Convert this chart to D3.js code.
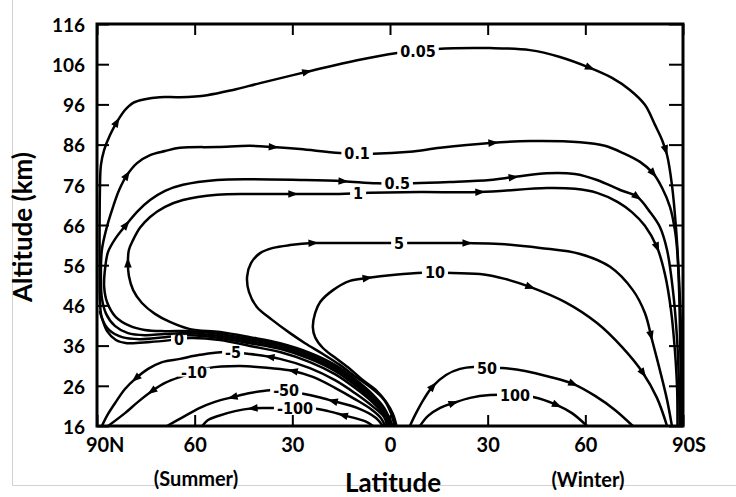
<!DOCTYPE html>
<html>
<head>
<meta charset="utf-8">
<script src="https://cdn.jsdelivr.net/npm/d3@7"></script>
<style>
  body { margin: 0; background: #fff; }
  svg { display: block; }
</style>
</head>
<body>
<svg id="chart" width="736" height="497"></svg>
<script>
// Axis ticks
const altTicks = [16, 26, 36, 46, 56, 66, 76, 86, 96, 106, 116];
const latTicks = [90, 60, 30, 0, -30, -60, -90];
const latTickLabels = ["90N", "60", "30", "0", "30", "60", "90S"];

// Mass stream function lines, [latitude (+N / -S), altitude km], ordered along the flow
const sf_005 = [[0.2,16],[1.8,19.2],[5.5,22.5],[10.8,26.2],[16.9,29.7],[24.6,32.7],[33.8,35.2],[43.0,36.6],[52.2,37.9],[61.4,38.6],[69.1,38.1],[76.8,37.6],[82.3,38.1],[86.3,39.9],[88.5,42.9],[89.1,47.3],[89.2,54.8],[89.2,64.8],[89.1,74.7],[88.8,80.9],[87.8,84.7],[86.0,88.4],[83.9,91.6],[81.4,94.6],[78.9,96.4],[75.3,97.3],[70.7,97.8],[64.5,97.8],[56.2,98.3],[48.2,99.6],[39.9,101.3],[25.5,104.1],[10.1,107.0],[-2.2,108.8],[-14.4,109.8],[-30.7,110.0],[-43.0,109.5],[-52.2,107.8],[-61.4,105.1],[-68.2,102.6],[-73.7,99.6],[-78.3,95.9],[-81.4,90.9],[-83.6,87.1],[-85.1,83.4],[-86.6,76.0],[-87.9,64.8],[-88.8,52.3],[-89.4,39.9],[-89.7,27.4],[-89.7,16]];
const sf_01 = [[-0.2,16],[1.8,19.7],[5.5,23.0],[10.8,26.7],[16.9,30.2],[24.6,33.2],[33.8,35.7],[43.0,37.1],[52.2,38.4],[61.4,39.1],[69.1,38.9],[75.3,38.6],[80.5,39.1],[84.5,40.9],[87.2,43.9],[88.5,47.8],[88.8,53.6],[88.5,59.8],[87.2,64.8],[85.4,69.7],[83.2,74.7],[80.8,78.4],[77.7,81.4],[73.7,83.4],[69.1,84.4],[64.5,85.2],[53.1,85.4],[43.0,85.7],[35.9,85.4],[27.6,84.9],[15.4,83.9],[5.2,83.7],[-6.1,84.2],[-15.4,85.2],[-30.7,86.4],[-43.0,86.9],[-58.4,86.6],[-66.0,85.7],[-71.6,83.9],[-76.8,81.7],[-80.8,78.9],[-83.6,75.2],[-86.0,70.5],[-87.5,64.8],[-88.2,59.8],[-88.8,49.8],[-89.1,37.4],[-89.4,25.0],[-89.5,16]];
const sf_05 = [[-0.5,16],[1.8,20.0],[5.5,23.5],[10.8,27.2],[16.9,30.7],[24.6,33.7],[33.8,36.2],[43.0,37.6],[52.2,38.9],[61.4,39.6],[69.1,39.6],[75.3,39.9],[79.9,40.9],[84.2,43.1],[86.9,46.8],[87.8,50.6],[87.5,55.3],[86.6,59.3],[84.2,62.8],[81.1,66.0],[77.4,69.5],[73.7,72.2],[69.1,74.5],[63.6,76.0],[53.1,77.2],[43.0,77.4],[27.6,77.2],[14.4,76.9],[4.0,76.4],[-7.1,76.4],[-18.4,76.7],[-30.7,77.2],[-37.8,77.9],[-48.2,78.9],[-56.8,78.7],[-63.6,77.2],[-70.7,74.7],[-75.9,73.0],[-79.9,69.2],[-82.9,65.5],[-85.1,59.8],[-86.9,49.8],[-88.2,37.4],[-88.8,25.0],[-89.0,16]];
const sf_1 = [[-0.8,16],[1.8,20.5],[5.5,24.0],[10.8,27.7],[16.9,31.2],[24.6,34.2],[33.8,36.6],[43.0,38.1],[52.2,39.4],[61.4,40.1],[67.6,41.9],[72.2,43.9],[76.2,46.6],[78.9,49.8],[80.2,53.3],[80.5,56.5],[80.2,59.8],[78.9,62.3],[76.8,65.3],[73.7,68.0],[69.1,70.5],[63.6,72.2],[53.1,73.5],[43.0,73.7],[29.8,73.7],[18.4,73.7],[6.1,74.0],[-9.2,74.2],[-27.6,74.2],[-48.2,75.2],[-56.8,75.0],[-63.6,74.0],[-70.0,71.7],[-74.3,69.2],[-78.3,65.8],[-82.0,60.5],[-84.5,53.6],[-86.3,44.9],[-87.5,34.9],[-88.2,25.0],[-88.3,16]];
const sf_5 = [[-1.4,16],[-0.3,19.2],[1.8,22.5],[6.1,25.7],[10.8,28.4],[15.4,31.2],[20.6,33.9],[26.1,36.6],[30.7,39.1],[36.2,42.4],[40.9,45.6],[43.3,49.3],[43.9,53.1],[42.7,56.5],[39.9,59.0],[35.9,60.3],[30.7,61.0],[23.7,61.5],[12.3,61.5],[-3.1,61.5],[-15.4,61.5],[-23.7,61.5],[-33.8,61.3],[-46.1,60.3],[-58.4,58.8],[-67.6,55.6],[-74.6,49.8],[-78.3,44.1],[-80.5,37.4],[-82.9,29.9],[-85.1,22.5],[-86.6,16]];
const sf_10 = [[-2.0,16],[-0.9,19.0],[1.2,22.0],[4.0,24.7],[8.3,27.4],[12.3,30.2],[17.2,33.2],[20.6,35.4],[23.0,38.1],[23.7,40.6],[23.0,44.1],[21.5,46.8],[17.5,49.8],[12.3,52.1],[7.1,52.8],[-1.5,53.6],[-10.1,54.1],[-16.9,54.1],[-27.6,53.8],[-35.3,52.6],[-43.0,50.6],[-53.8,46.8],[-63.6,41.6],[-71.3,35.6],[-77.7,29.2],[-82.0,23.0],[-85.1,16]];
const sf_0 = [[0.5,16],[1.8,18.7],[5.5,22.0],[10.8,25.5],[16.9,28.9],[24.6,31.9],[33.8,34.4],[43.0,35.9],[52.2,37.4],[61.4,37.9],[67.0,37.4],[73.7,36.9],[80.8,36.6],[84.2,37.4],[86.9,39.6],[88.5,42.9],[89.1,44.4]];
const sf_m5 = [[0.9,16],[1.8,18.2],[5.5,21.0],[10.8,24.2],[16.9,27.4],[24.6,30.4],[33.8,32.7],[43.0,33.9],[50.7,34.4],[58.4,33.7],[64.5,32.7],[70.0,31.9],[74.3,30.2],[78.0,27.9],[81.4,25.2],[84.2,22.0],[86.6,19.0],[88.5,16]];
const sf_m10 = [[1.5,16],[2.8,18.0],[5.5,20.0],[10.8,22.7],[16.9,25.5],[23.7,28.2],[29.8,29.7],[36.9,30.4],[46.1,30.9],[55.9,30.4],[59.9,29.4],[64.5,28.2],[69.1,26.7],[73.1,24.7],[77.4,22.0],[81.4,19.2],[86.6,16]];
const sf_m50 = [[2.2,16],[4.3,18.0],[10.1,20.5],[17.5,22.2],[22.1,23.2],[26.7,24.0],[31.9,24.7],[36.9,24.9],[43.0,24.2],[48.2,23.2],[53.8,22.0],[58.4,20.5],[63.6,18.2],[68.5,16]];
const sf_m100 = [[5.2,16],[7.7,17.2],[14.4,18.7],[19.0,19.7],[23.7,20.4],[29.2,20.5],[33.8,20.5],[38.4,20.5],[42.1,20.4],[47.6,19.7],[52.8,18.5],[55.9,17.5],[57.7,16]];
const sf_50 = [[-6.1,16],[-8.0,19.2],[-10.4,22.7],[-13.2,25.9],[-17.2,28.7],[-21.5,30.2],[-25.5,30.7],[-29.8,30.4],[-34.4,30.4],[-41.5,29.7],[-49.2,28.2],[-56.2,26.5],[-63.0,23.5],[-69.1,20.0],[-74.6,16]];
const sf_100 = [[-9.2,16],[-11.7,18.5],[-15.4,20.5],[-19.4,21.7],[-24.6,23.0],[-30.7,23.7],[-37.5,23.7],[-43.9,23.2],[-51.3,21.2],[-55.9,19.2],[-60.5,16]];

// Flow-direction arrowheads on each line [lat, alt]
const arr_005 = [[83.9,91.6],[25.5,104.1],[-61.4,105.1],[-84.6,84.7]];
const arr_01 = [[80.8,78.4],[35.9,85.4],[-31.6,86.4],[-80.8,78.9]];
const arr_05 = [[81.1,66.0],[14.4,76.9],[-37.8,77.9],[-75.9,73.0]];
const arr_1 = [[80.5,56.5],[29.8,73.7],[-27.6,74.2],[-82.0,60.5]];
const arr_5 = [[23.7,61.5],[-23.7,61.5],[-80.0,38.5]];
const arr_10 = [[7.1,52.8],[-43.0,50.6],[-77.7,29.2]];
const arr_0 = [];
const arr_m5 = [[36.9,33.2],[78.0,27.9]];
const arr_m10 = [[29.8,29.7],[73.1,24.7]];
const arr_m50 = [[17.5,22.2],[48.2,23.2]];
const arr_m100 = [[14.4,18.7],[42.1,20.4]];
const arr_50 = [[-13.2,25.9],[-56.2,26.5]];
const arr_100 = [[-19.4,21.7],[-51.3,21.2]];

// Contour values and where their labels sit [lat, alt]
const lineValues = ["0.05", "0.1", "0.5", "1", "5", "10", "0", "-5", "-10", "-50", "-100", "50", "100"];
const labelAt = [[-8.6,109.2],[10.1,83.8],[-2.2,76.4],[9.8,73.8],[-2.8,61.5],[-13.8,54.1],[64.8,37.5],[48.2,34.2],[60.2,29.4],[31.9,24.8],[29.2,20.4],[-29.8,30.4],[-38.4,23.6]];

const lineData = [sf_005, sf_01, sf_05, sf_1, sf_5, sf_10, sf_0, sf_m5, sf_m10, sf_m50, sf_m100, sf_50, sf_100];
const arrowData = [arr_005, arr_01, arr_05, arr_1, arr_5, arr_10, arr_0, arr_m5, arr_m10, arr_m50, arr_m100, arr_50, arr_100];
const streams = lineValues.map((v, i) => ({ value: v, pts: lineData[i], arrows: arrowData[i], label: labelAt[i] }));

const W = 736, H = 497;
const padL = 97, padR = 683, padT = 24, padB = 426;
const axisFont = "Lato, 'Open Sans', 'Liberation Sans', sans-serif";
const labelFont = "'Liberation Sans Narrow', 'DejaVu Sans Condensed', 'Arial Narrow', sans-serif";

const x = d3.scaleLinear().domain([90, -90]).range([padL, padR]);
const y = d3.scaleLinear().domain([16, 116]).range([padB, padT]);

const svg = d3.select("#chart");

// light page border
svg.append("path")
  .attr("d", `M12.5,0V485.5H${W}`)
  .attr("fill", "none")
  .attr("stroke", "#d2d2d2")
  .attr("stroke-width", 1);

// axes (ticks point inwards)
function styleAxis(g) {
  g.select(".domain").remove();
  g.selectAll(".tick line").attr("stroke", "#000").attr("stroke-width", 2);
  g.attr("font-family", axisFont).attr("font-weight", "bold").attr("fill", "#000");
  g.selectAll(".tick text").attr("fill", "#000");
}

svg.append("g")
  .attr("transform", `translate(${padL},0)`)
  .call(d3.axisLeft(y).tickValues(altTicks).tickSizeInner(-12).tickSizeOuter(0).tickPadding(12))
  .call(styleAxis)
  .attr("font-size", 19)
  .call(g => g.selectAll(".tick text").attr("dy", "0.38em"));

svg.append("g")
  .attr("transform", `translate(${padR},0)`)
  .call(d3.axisRight(y).tickValues(altTicks).tickSizeInner(-14).tickSizeOuter(0).tickFormat(""))
  .call(styleAxis);

svg.append("g")
  .attr("transform", `translate(0,${padT})`)
  .call(d3.axisTop(x).tickValues(latTicks).tickSizeInner(-11).tickSizeOuter(0).tickFormat(""))
  .call(styleAxis);

const gx = svg.append("g")
  .attr("transform", `translate(0,${padB})`)
  .call(d3.axisBottom(x).tickValues(latTicks).tickSizeInner(-11).tickSizeOuter(0).tickPadding(12)
    .tickFormat((d, i) => latTickLabels[i]))
  .call(styleAxis)
  .attr("font-size", 20);

// keep the "90" of 90N / 90S centred on its tick
gx.selectAll(".tick text").each(function () {
  const s = this.textContent;
  if (s.length > 2) {
    const full = this.getComputedTextLength();
    const w = this.getSubStringLength(0, 2);
    d3.select(this).attr("x", (full - w) / 2);
  }
});

// stream lines
svg.append("clipPath").attr("id", "plotClip")
  .append("rect").attr("x", padL).attr("y", padT).attr("width", padR - padL).attr("height", padB - padT);

const lineGen = d3.line()
  .x(d => x(d[0]))
  .y(d => y(d[1]))
  .curve(d3.curveCatmullRom.alpha(0.5));

const gLines = svg.append("g").attr("clip-path", "url(#plotClip)");
const gMask = svg.append("g");
const gLabels = svg.append("g");
const gArrows = svg.append("g");

streams.forEach(s => {
  s.node = gLines.append("path")
    .attr("d", lineGen(s.pts))
    .attr("fill", "none")
    .attr("stroke", "#000")
    .attr("stroke-width", 2.5)
    .attr("stroke-linejoin", "round")
    .attr("stroke-linecap", "round")
    .node();
});

// contour labels, each sitting in a gap of its line
streams.forEach(s => {
  const cx = x(s.label[0]), cy = y(s.label[1]);
  const t = gLabels.append("text")
    .attr("x", cx).attr("y", cy)
    .attr("text-anchor", "middle")
    .attr("dominant-baseline", "central")
    .attr("font-family", labelFont)
    .attr("font-weight", "bold")
    .attr("font-size", 16)
    .attr("fill", "#000")
    .text(s.value);
  const w = t.node().getComputedTextLength();
  gMask.append("rect")
    .attr("x", cx - w / 2 - 3).attr("y", cy - 4.5)
    .attr("width", w + 6).attr("height", 9)
    .attr("fill", "#fff");
});

// arrowheads, oriented along the flow
function nearestLength(node, px, py) {
  const L = node.getTotalLength();
  let best = 0, bd = Infinity;
  for (let l = 0; l <= L; l += 0.5) {
    const q = node.getPointAtLength(l);
    const d = (q.x - px) ** 2 + (q.y - py) ** 2;
    if (d < bd) { bd = d; best = l; }
  }
  return best;
}

streams.forEach(s => {
  const L = s.node.getTotalLength();
  s.arrows.forEach(a => {
    const l = nearestLength(s.node, x(a[0]), y(a[1]));
    const p = s.node.getPointAtLength(l);
    const p0 = s.node.getPointAtLength(Math.max(0, l - 3));
    const p1 = s.node.getPointAtLength(Math.min(L, l + 3));
    const ang = Math.atan2(p1.y - p0.y, p1.x - p0.x) * 180 / Math.PI;
    gArrows.append("path")
      .attr("d", "M5.5,0L-4.5,-3.8L-4.5,3.8Z")
      .attr("transform", `translate(${p.x},${p.y}) rotate(${ang})`)
      .attr("fill", "#000");
  });
});

// plot frame
svg.append("rect")
  .attr("x", padL).attr("y", padT)
  .attr("width", padR - padL).attr("height", padB - padT)
  .attr("fill", "none")
  .attr("stroke", "#000")
  .attr("stroke-width", 3);

// titles
svg.append("text")
  .attr("transform", "translate(32,227) rotate(-90)")
  .attr("text-anchor", "middle")
  .attr("font-family", axisFont).attr("font-weight", "bold").attr("font-size", 26)
  .text("Altitude (km)");

svg.append("text")
  .attr("x", 393).attr("y", 492)
  .attr("text-anchor", "middle")
  .attr("font-family", axisFont).attr("font-weight", "bold").attr("font-size", 26)
  .text("Latitude");

svg.append("text")
  .attr("x", 196).attr("y", 486)
  .attr("text-anchor", "middle")
  .attr("font-family", axisFont).attr("font-weight", "bold").attr("font-size", 20)
  .text("(Summer)");

svg.append("text")
  .attr("x", 588).attr("y", 487)
  .attr("text-anchor", "middle")
  .attr("font-family", axisFont).attr("font-weight", "bold").attr("font-size", 20)
  .text("(Winter)");
</script>
</body>
</html>
